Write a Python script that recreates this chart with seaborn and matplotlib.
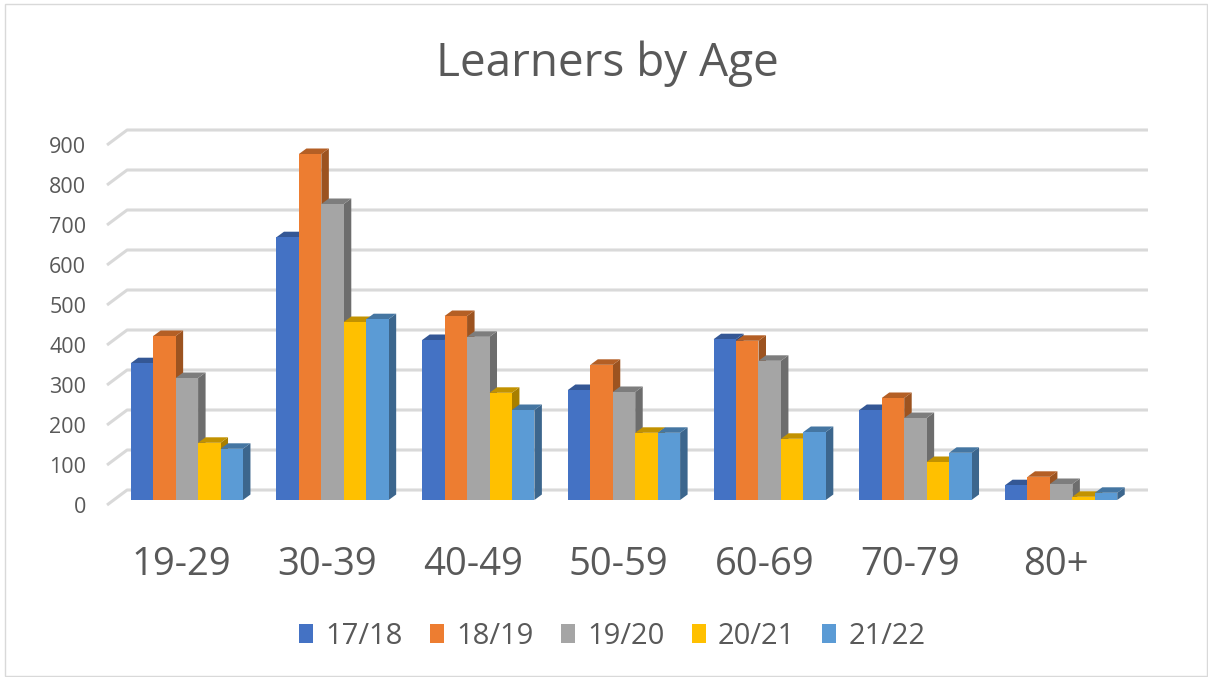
import matplotlib
matplotlib.use('Agg')
import matplotlib.pyplot as plt
from matplotlib.colors import to_rgb
from matplotlib.patches import Polygon, Rectangle
from matplotlib.transforms import ScaledTranslation
import pandas as pd
import seaborn as sns

ages = ['19-29', '30-39', '40-49', '50-59', '60-69', '70-79', '80+']
y1718 = [342, 657, 400, 275, 402, 225, 37]
y1819 = [410, 865, 460, 338, 398, 255, 58]
y1920 = [305, 740, 408, 270, 348, 205, 40]
y2021 = [143, 445, 268, 168, 153, 95, 8]
y2122 = [128, 452, 225, 168, 170, 118, 18]
years = ['17/18', '18/19', '19/20', '20/21', '21/22']
colors = ['#4472C4', '#ED7D31', '#A5A5A5', '#FFC000', '#5B9BD5']
yticks = list(range(0, 1000, 100))

W, H = 1208, 677
TEXT = '#595959'

sns.set_theme(style='white')
plt.rcParams['font.family'] = ['Open Sans', 'DejaVu Sans']

df = pd.DataFrame({'age': ages * 5,
                   'year': [y for y in years for _ in ages],
                   'learners': y1718 + y1819 + y1920 + y2021 + y2122})

fig = plt.figure(figsize=(W / 100, H / 100), dpi=100, facecolor='white')
# axes box in pixels: x 114..1134, y 140..500
ax = fig.add_axes([114 / W, 1 - 500 / H, 1020 / W, 360 / H])
sns.barplot(data=df, x='age', y='learners', hue='year', palette=colors,
            width=0.77, gap=0, saturation=1, ax=ax, legend=False,
            linewidth=0, errorbar=None)
ax.set_xlim(-0.5, 6.5)
ax.set_ylim(0, 900)
sns.despine(ax=ax, left=True, bottom=True)
ax.set_xlabel('')
ax.set_ylabel('')
ax.patch.set_alpha(0)

# pixel sizes turned into data units
px_x = 7 / 1020
px_y = 900 / 360
depth_x = 7.5 * px_x
depth_y = 5.5 * px_y

# back wall gridlines with the slanted bit on the left
for v in yticks:
    ax.plot([-0.548, -0.41, 6.596], [v - 12.5, v + 25, v + 25], color='#D9D9D9',
            lw=2.2, zorder=1, clip_on=False, solid_capstyle='butt')


def shade(col, f):
    r, g, b = to_rgb(col)
    return (r * f, g * f, b * f)


for i, cont in enumerate(ax.containers):
    for bar in cont:
        x, w, h = bar.get_x(), bar.get_width(), bar.get_height()
        z = 3 + i * 0.1 + x * 0.001
        bar.set_zorder(z + 0.01)
        side = Polygon([(x + w, 0), (x + w + depth_x, depth_y),
                        (x + w + depth_x, h + depth_y), (x + w, h)],
                       fc=shade(colors[i], 0.66), ec='none', clip_on=False, zorder=z)
        top = Polygon([(x, h), (x + depth_x, h + depth_y),
                       (x + w + depth_x, h + depth_y), (x + w, h)],
                      fc=shade(colors[i], 0.76), ec='none', clip_on=False, zorder=z)
        ax.add_patch(side)
        ax.add_patch(top)

ax.set_yticks(yticks)
ax.tick_params(axis='y', length=0, pad=20, labelsize=15.5, labelcolor=TEXT)
ax.tick_params(axis='x', length=0, pad=33, labelsize=27.5, labelcolor=TEXT)
for lab in ax.get_yticklabels():
    lab.set_transform(lab.get_transform() + ScaledTranslation(0, -5 / 100, fig.dpi_scale_trans))
for lab in ax.get_xticklabels():
    lab.set_transform(lab.get_transform() + ScaledTranslation(-5.5 / 100, 0, fig.dpi_scale_trans))

fig.text(607 / W, 1 - 64 / H, 'Learners by Age', ha='center', va='center',
         fontsize=33, color=TEXT)

handles = [Rectangle((0, 0), 1, 1, fc=c, ec='none') for c in colors]
fig.legend(handles, years, loc='center', bbox_to_anchor=(612.5 / W, 1 - 636 / H), ncol=5,
           frameon=False, fontsize=21, labelcolor=TEXT, handlelength=0.48,
           handleheight=0.62, handletextpad=0.42, columnspacing=0.93)

# thin frame around the picture
fig.add_artist(Rectangle((5 / W, 1 / H), (W - 6) / W, (H - 5) / H, transform=fig.transFigure,
                         fc='none', ec='#D9D9D9', lw=1))

fig.savefig('out.png', dpi=100)
